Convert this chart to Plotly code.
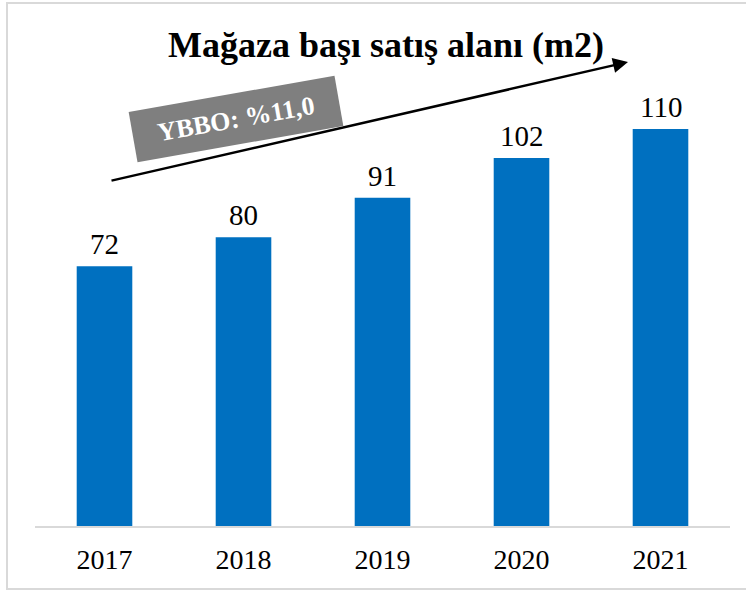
import plotly.graph_objects as go

years = ["2017", "2018", "2019", "2020", "2021"]
values = [72, 80, 91, 102, 110]
cagr_label = "YBBO: %11,0"
title_text = "Mağaza başı satış alanı (m2)"

W, H = 746, 593
L, R, T, B = 35, 16, 93, 67
pw, ph = W - L - R, H - T - B

def px(x):
    return (x - L) / pw

def py(y):
    return (H - B - y) / ph

serif = "Liberation Serif, Times New Roman, serif"

fig = go.Figure(go.Bar(
    x=years, y=values,
    marker=dict(color="#0070C0", line=dict(width=0)),
    cliponaxis=False,
))

# value labels above bars (x given as category index)
for i, v in enumerate(values):
    fig.add_annotation(x=i, y=v, xref="x", yref="y", text=str(v),
                       showarrow=False, xanchor="center", yanchor="bottom",
                       yshift=4,
                       font=dict(family=serif, size=29, color="#000000"))

fig.update_layout(
    width=W, height=H,
    margin=dict(l=L, r=R, t=T, b=B),
    paper_bgcolor="white", plot_bgcolor="white",
    bargap=0.6,
    showlegend=False,
    title=dict(text="<b>" + title_text + "</b>", x=386 / W, y=1 - 44 / H,
               xanchor="center", yanchor="middle",
               font=dict(family=serif, size=36, color="#000000")),
    xaxis=dict(type="category", range=[-0.5, len(years) - 0.5],
               showline=True, linecolor="#D9D9D9", linewidth=2,
               ticks="outside", ticklen=7, tickcolor="rgba(0,0,0,0)",
               tickfont=dict(family=serif, size=28, color="#000000"),
               showgrid=False, zeroline=False),
    yaxis=dict(range=[0, 120], visible=False, showgrid=False, zeroline=False),
)

# outer border
fig.add_shape(type="rect", xref="paper", yref="paper",
              x0=px(7), x1=px(760), y0=py(589), y1=py(3),
              line=dict(color="#D9D9D9", width=2), fillcolor="rgba(0,0,0,0)")

# trend arrow
fig.add_annotation(xref="paper", yref="paper", x=px(628), y=py(62),
                   ax=110 - 628, ay=181 - 62, text="", showarrow=True,
                   arrowhead=2, arrowsize=1.2, arrowwidth=2.5,
                   arrowcolor="#000000", standoff=0)

# CAGR box
fig.add_annotation(xref="paper", yref="paper", x=px(236), y=py(119),
                   xanchor="center", yanchor="middle",
                   text="<b>" + cagr_label + "</b>", showarrow=False,
                   textangle=-10, bgcolor="#7F7F7F", borderpad=4,
                   width=200, height=42,
                   font=dict(family=serif, size=26, color="#FFFFFF"))

fig.write_html("out.html", config={"displayModeBar": False},
               post_script="document.body.style.margin='0';document.body.style.padding='0';")
